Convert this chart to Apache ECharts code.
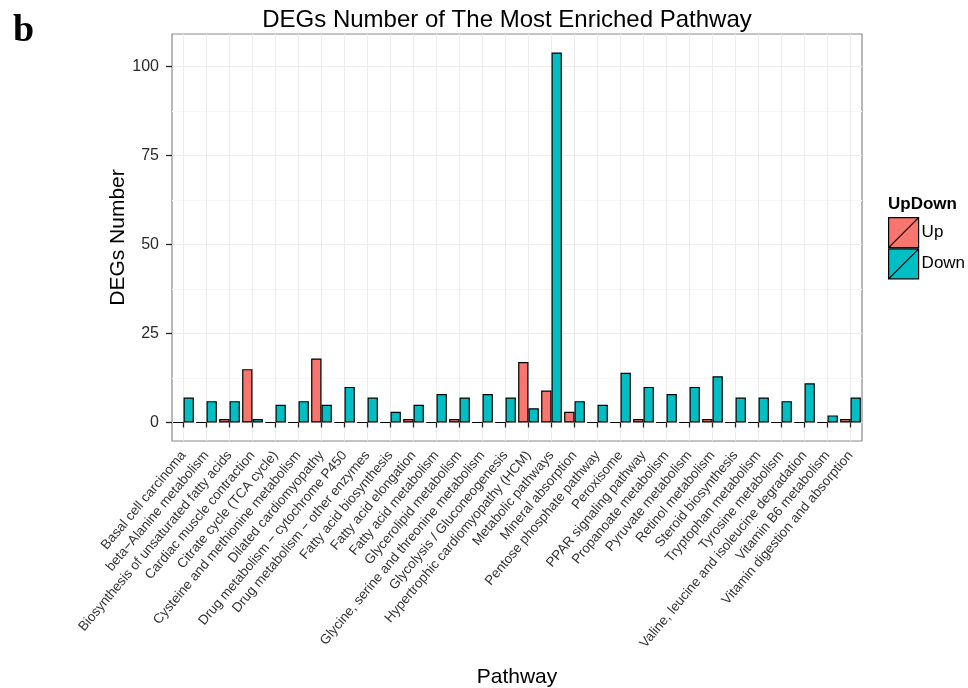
<!DOCTYPE html>
<html>
<head>
<meta charset="utf-8">
<script src="https://cdn.jsdelivr.net/npm/echarts@6/dist/echarts.min.js"></script>
<style>html,body{margin:0;padding:0;background:#fff;}#c{width:968px;height:688px;}</style>
</head>
<body>
<div id="c"></div>
<script>
const categories = [
  'Basal cell carcinoma','beta\u2212Alanine metabolism','Biosynthesis of unsaturated fatty acids',
  'Cardiac muscle contraction','Citrate cycle (TCA cycle)','Cysteine and methionine metabolism',
  'Dilated cardiomyopathy','Drug metabolism \u2212 cytochrome P450','Drug metabolism \u2212 other enzymes',
  'Fatty acid biosynthesis','Fatty acid elongation','Fatty acid metabolism','Glycerolipid metabolism',
  'Glycine, serine and threonine metabolism','Glycolysis / Gluconeogenesis','Hypertrophic cardiomyopathy (HCM)',
  'Metabolic pathways','Mineral absorption','Pentose phosphate pathway','Peroxisome','PPAR signaling pathway',
  'Propanoate metabolism','Pyruvate metabolism','Retinol metabolism','Steroid biosynthesis',
  'Tryptophan metabolism','Tyrosine metabolism','Valine, leucine and isoleucine degradation',
  'Vitamin B6 metabolism','Vitamin digestion and absorption'
];
const upValues   = [0,0,1,15,0,0,18,0,0,0,1,0,1,0,0,17,9,3,0,0,1,0,0,1,0,0,0,0,0,1];
const downValues = [7,6,6,1,5,6,5,10,7,3,5,8,7,8,7,4,104,6,5,14,10,8,10,13,7,7,6,11,2,7];
const yTicks = [0,25,50,75,100];
const yMinorTicks = [12.5,37.5,62.5,87.5];

const FONT = 'Liberation Sans, Arial, Helvetica, sans-serif';
const chart = echarts.init(document.getElementById('c'), null, {renderer:'canvas'});
const legendIcon = 'path://M0,0L10,0L10,10L0,10ZM0,10L10,0';
chart.setOption({
  animation: false,
  backgroundColor: '#fff',
  title: [
    {text: 'b', left: 8, top: 7, textStyle: {fontFamily: 'Liberation Serif, Times New Roman, serif', fontWeight: 'bold', fontSize: 38, color: '#000'}},
    {text: 'DEGs Number of The Most Enriched Pathway', left: 502, top: 3, textAlign: 'center',
     textStyle: {fontFamily: FONT, fontWeight: 'normal', fontSize: 24, color: '#000'}},
    {text: 'UpDown', left: 883, top: 191, textStyle: {fontFamily: FONT, fontWeight: 'bold', fontSize: 17, color: '#000'}}
  ],
  legend: {
    orient: 'vertical', left: 888, top: 217, padding: 0, itemWidth: 30, itemHeight: 30, itemGap: 0,
    icon: legendIcon,
    itemStyle: {borderColor: '#000', borderWidth: 1.2},
    textStyle: {fontFamily: FONT, fontSize: 17, color: '#000', padding: [0,0,0,-2]},
    data: ['Up','Down']
  },
  grid: {left: 172, right: 106, top: 34, bottom: 247, show: true, borderColor: '#8a8a8a', borderWidth: 1.2,
         backgroundColor: '#fff', containLabel: false, outerBoundsMode: 'none'},
  xAxis: {
    type: 'category', data: categories,
    name: 'Pathway', nameLocation: 'middle', nameGap: 226, nameMoveOverlap: false,
    nameTextStyle: {fontFamily: FONT, fontSize: 21, color: '#000'},
    axisLine: {show: false},
    axisTick: {show: true, alignWithLabel: true, length: 5, lineStyle: {color: '#222', width: 1.3}},
    splitLine: {show: true, alignWithLabel: true, lineStyle: {color: '#ececec', width: 1}},
    axisLabel: {rotate: 50, interval: 0, margin: 12, fontFamily: FONT, fontSize: 13.5, color: '#333'}
  },
  yAxis: [
    {
      type: 'value', min: -5.2, max: 109.2,
      name: 'DEGs Number', nameLocation: 'middle', nameGap: 43, nameRotate: 90, nameMoveOverlap: false,
      nameTextStyle: {fontFamily: FONT, fontSize: 21, color: '#000'},
      axisLine: {show: false},
      axisTick: {show: true, length: 6, customValues: yTicks, lineStyle: {color: '#222', width: 1.3}},
      axisLabel: {customValues: yTicks, margin: 13, fontFamily: FONT, fontSize: 16, color: '#2a2a2a'},
      splitLine: {show: true, lineStyle: {color: '#ececec', width: 1}}
    },
    {
      type: 'value', min: -5.2, max: 109.2, position: 'left',
      axisLine: {show: false},
      axisTick: {show: false, customValues: yMinorTicks},
      axisLabel: {show: false, customValues: yMinorTicks},
      splitLine: {show: true, lineStyle: {color: '#f6f6f6', width: 1}}
    }
  ],
  series: [
    {name: 'Up', type: 'bar', data: upValues, barWidth: '45%', barGap: '0%',
     itemStyle: {color: '#F8766D', borderColor: '#000', borderWidth: 1.2}},
    {name: 'Down', type: 'bar', data: downValues, barWidth: '45%', barGap: '0%',
     itemStyle: {color: '#00BFC4', borderColor: '#000', borderWidth: 1.2}}
  ]
});
</script>
</body>
</html>
